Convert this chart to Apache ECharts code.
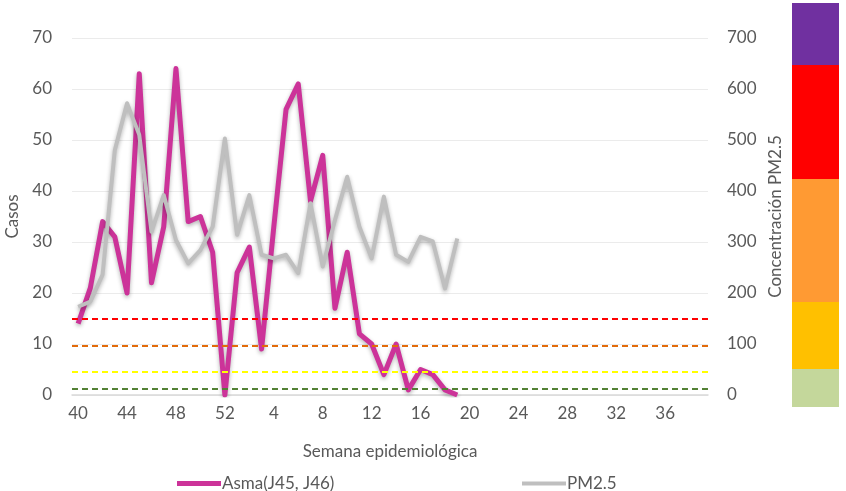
<!DOCTYPE html>
<html>
<head>
<meta charset="utf-8">
<script src="https://cdn.jsdelivr.net/npm/echarts@6/dist/echarts.min.js"></script>
<style>
  html, body { margin: 0; padding: 0; background: #fff; }
  #chart { width: 846px; height: 491px; }
</style>
</head>
<body>
<div id="chart"></div>
<script>
// semanas epidemiológicas 40..52, 1..39
const weeks = [40, 41, 42, 43, 44, 45, 46, 47, 48, 49, 50, 51, 52,
  1, 2, 3, 4, 5, 6, 7, 8, 9, 10, 11, 12, 13, 14, 15, 16, 17, 18, 19, 20,
  21, 22, 23, 24, 25, 26, 27, 28, 29, 30, 31, 32, 33, 34, 35, 36, 37, 38, 39].map(String);

const asma = [14, 21, 34, 31, 20, 63, 22, 33, 64, 34, 35, 28, 0,
  24, 29, 9, 33, 56, 61, 38, 47, 17, 28, 12, 10, 4, 10, 1, 5, 4, 1, 0];

const pm25 = [173, 183, 236, 480, 572, 510, 320, 392, 304, 258, 284, 330, 503,
  314, 392, 275, 268, 275, 239, 376, 252, 343, 428, 330, 268, 389, 275, 261, 310, 301, 209, 307];

// limites PM2.5 (eje derecho)
const limits = [
  { value: 150, color: '#ff0000' },
  { value: 97, color: '#e26b0a' },
  { value: 45, color: '#ffff00' },
  { value: 12, color: '#538135' }
];

// escala de color lateral (de abajo hacia arriba)
const scaleColors = ['#c4d79b', '#ffc000', '#ff9a33', '#ff0000', '#7030a0'];
const scaleSizes = [38, 67, 123, 114, 62];

const font = 'Lato, "Open Sans", sans-serif';
const txt = '#595959';

const chart = echarts.init(document.getElementById('chart'));

const scaleSeries = scaleSizes.map((v, i) => ({
  type: 'bar',
  xAxisIndex: 1,
  yAxisIndex: 2,
  stack: 'escala',
  barWidth: '100%',
  silent: true,
  data: [v],
  itemStyle: { color: scaleColors[i] }
}));

chart.setOption({
  animation: false,
  textStyle: { fontFamily: font },
  grid: [
    { left: 72, right: 138, top: 38, bottom: 96, outerBoundsMode: 'none', containLabel: false },
    { left: 792, width: 47, top: 3, height: 404, outerBoundsMode: 'none' }
  ],
  legend: [
    {
      data: [{ name: 'Asma(J45, J46)', icon: 'rect', itemStyle: { color: '#cc3399' } }],
      left: 172, top: 470,
      itemWidth: 44, itemHeight: 5,
      itemGap: 4,
      textStyle: { fontSize: 17, color: txt, fontFamily: font, padding: [0, 0, 0, -4] }
    },
    {
      data: [{ name: 'PM2.5', icon: 'rect', itemStyle: { color: '#bfbfbf' } }],
      left: 517, top: 470,
      itemWidth: 44, itemHeight: 4,
      textStyle: { fontSize: 17, color: txt, fontFamily: font, padding: [0, 0, 0, -4] }
    }
  ],
  xAxis: [
    {
      type: 'category',
      data: weeks,
      gridIndex: 0,
      boundaryGap: true,
      name: 'Semana epidemiológica',
      nameLocation: 'middle',
      nameGap: 48,
      nameTextStyle: { fontSize: 17, color: txt },
      axisLine: { lineStyle: { color: '#d9d9d9', width: 1.5 } },
      axisTick: { show: false },
      axisLabel: { interval: 3, fontSize: 17, color: txt, margin: 10 }
    },
    {
      type: 'category',
      data: [''],
      gridIndex: 1,
      show: false
    }
  ],
  yAxis: [
    {
      type: 'value',
      gridIndex: 0,
      min: 0, max: 70, interval: 10,
      name: 'Casos',
      nameLocation: 'middle',
      nameGap: 39,
      nameTextStyle: { fontSize: 17, color: txt },
      axisLine: { show: false },
      axisTick: { show: false },
      axisLabel: { fontSize: 17, color: txt, margin: 20 },
      splitLine: { lineStyle: { color: '#ebebeb', width: 1 } }
    },
    {
      type: 'value',
      gridIndex: 0,
      min: 0, max: 700, interval: 100,
      name: 'Concentración PM2.5',
      nameLocation: 'middle',
      nameGap: 57,
      nameTextStyle: { fontSize: 17, color: txt },
      axisLine: { show: false },
      axisTick: { show: false },
      axisLabel: { fontSize: 17, color: txt, margin: 19 },
      splitLine: { show: false }
    },
    {
      type: 'value',
      gridIndex: 1,
      min: 0, max: 404,
      show: false
    }
  ],
  series: [
    {
      name: 'Asma(J45, J46)',
      type: 'line',
      data: asma,
      xAxisIndex: 0,
      yAxisIndex: 0,
      symbol: 'none',
      z: 3,
      color: '#cc3399',
      lineStyle: {
        color: '#cc3399', width: 5, join: 'round',
        shadowColor: 'rgba(0,0,0,0.3)', shadowBlur: 4, shadowOffsetY: 2
      }
    },
    {
      name: 'PM2.5',
      type: 'line',
      data: pm25,
      xAxisIndex: 0,
      yAxisIndex: 1,
      symbol: 'none',
      z: 4,
      color: '#bfbfbf',
      lineStyle: {
        color: '#bfbfbf', width: 4, join: 'round',
        shadowColor: 'rgba(0,0,0,0.3)', shadowBlur: 4, shadowOffsetY: 2
      },
      markLine: {
        silent: true,
        symbol: 'none',
        label: { show: false },
        data: limits.map(l => ({
          yAxis: l.value,
          lineStyle: { color: l.color, type: [6, 4], width: 2 }
        }))
      }
    }
  ].concat(scaleSeries)
});
</script>
</body>
</html>
